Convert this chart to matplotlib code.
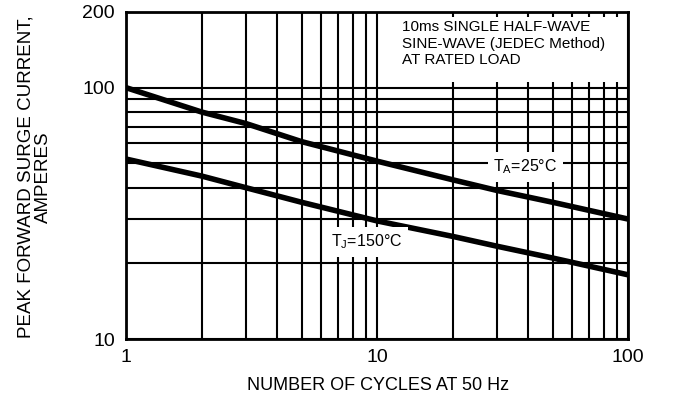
import matplotlib
matplotlib.use("Agg")
import matplotlib.pyplot as plt
from matplotlib.patches import Rectangle
from matplotlib.ticker import NullFormatter

plt.rcParams['font.family'] = ['Liberation Sans', 'DejaVu Sans']

# values
cycles = [1, 2, 3, 5, 10, 20, 30, 50, 100]
surge_ta25 = [100, 80, 72, 61, 51, 43, 39, 35, 30]
surge_tj150 = [52, 44.5, 40, 35, 29.5, 25.6, 23.4, 21, 18]

x_major = [1, 10, 100]
x_minor = [2, 3, 4, 5, 6, 7, 8, 9, 20, 30, 40, 50, 60, 70, 80, 90]
y_major = [10, 100, 200]
y_minor = [20, 30, 40, 50, 60, 70, 80, 90]

note = "10ms SINGLE HALF-WAVE\nSINE-WAVE (JEDEC Method)\nAT RATED LOAD"

fig = plt.figure(figsize=(6.74, 4.0), dpi=100)
ax = fig.add_axes([0.187, 0.1525, 0.745, 0.8175])
ax.set_xscale('log')
ax.set_yscale('log')
ax.set_xlim(1, 100)
ax.set_ylim(10, 200)

ax.set_xticks(x_major)
ax.set_xticklabels([str(v) for v in x_major])
ax.set_xticks(x_minor, minor=True)
ax.set_yticks(y_major)
ax.set_yticklabels([str(v) for v in y_major])
ax.set_yticks(y_minor, minor=True)
ax.xaxis.set_minor_formatter(NullFormatter())
ax.yaxis.set_minor_formatter(NullFormatter())
ax.tick_params(which='both', length=0, labelsize=14, colors='black')
ax.tick_params(axis='x', pad=7)
ax.tick_params(axis='y', pad=8)

ax.grid(which='both', color='black', linewidth=1.5)
for s in ax.spines.values():
    s.set_linewidth(2)

# white panel behind the note, top right
ax.add_patch(Rectangle((0.51, 0.786), 0.483, 0.199, transform=ax.transAxes,
                       facecolor='white', edgecolor='none', zorder=2))
ax.text(0.549, 0.976, note, transform=ax.transAxes, fontsize=11,
        va='top', ha='left', linespacing=1.25, zorder=3)

ax.plot(cycles, surge_ta25, color='black', linewidth=4, zorder=4, solid_capstyle='butt')
ax.plot(cycles, surge_tj150, color='black', linewidth=4, zorder=4, solid_capstyle='butt')

box = dict(boxstyle='square,pad=0.35', facecolor='white', edgecolor='none')
ax.text(38.9, 48.5, r"T$_\mathregular{A}$=25°C", fontsize=11.5, ha='center', va='center',
        zorder=5, bbox=box)
ax.text(9.1, 24.4, r"T$_\mathregular{J}$=150°C", fontsize=11.5, ha='center', va='center',
        zorder=5, bbox=box)

fig.text(378 / 674, 1 - 385 / 400, "NUMBER OF CYCLES AT 50 Hz", fontsize=13,
         ha='center', va='center')
fig.text(35 / 674, 1 - 177 / 400, "PEAK FORWARD SURGE CURRENT,\nAMPERES", fontsize=13.5,
         ha='center', va='center', rotation=90, linespacing=1.0)

fig.savefig("out.png", dpi=100)
